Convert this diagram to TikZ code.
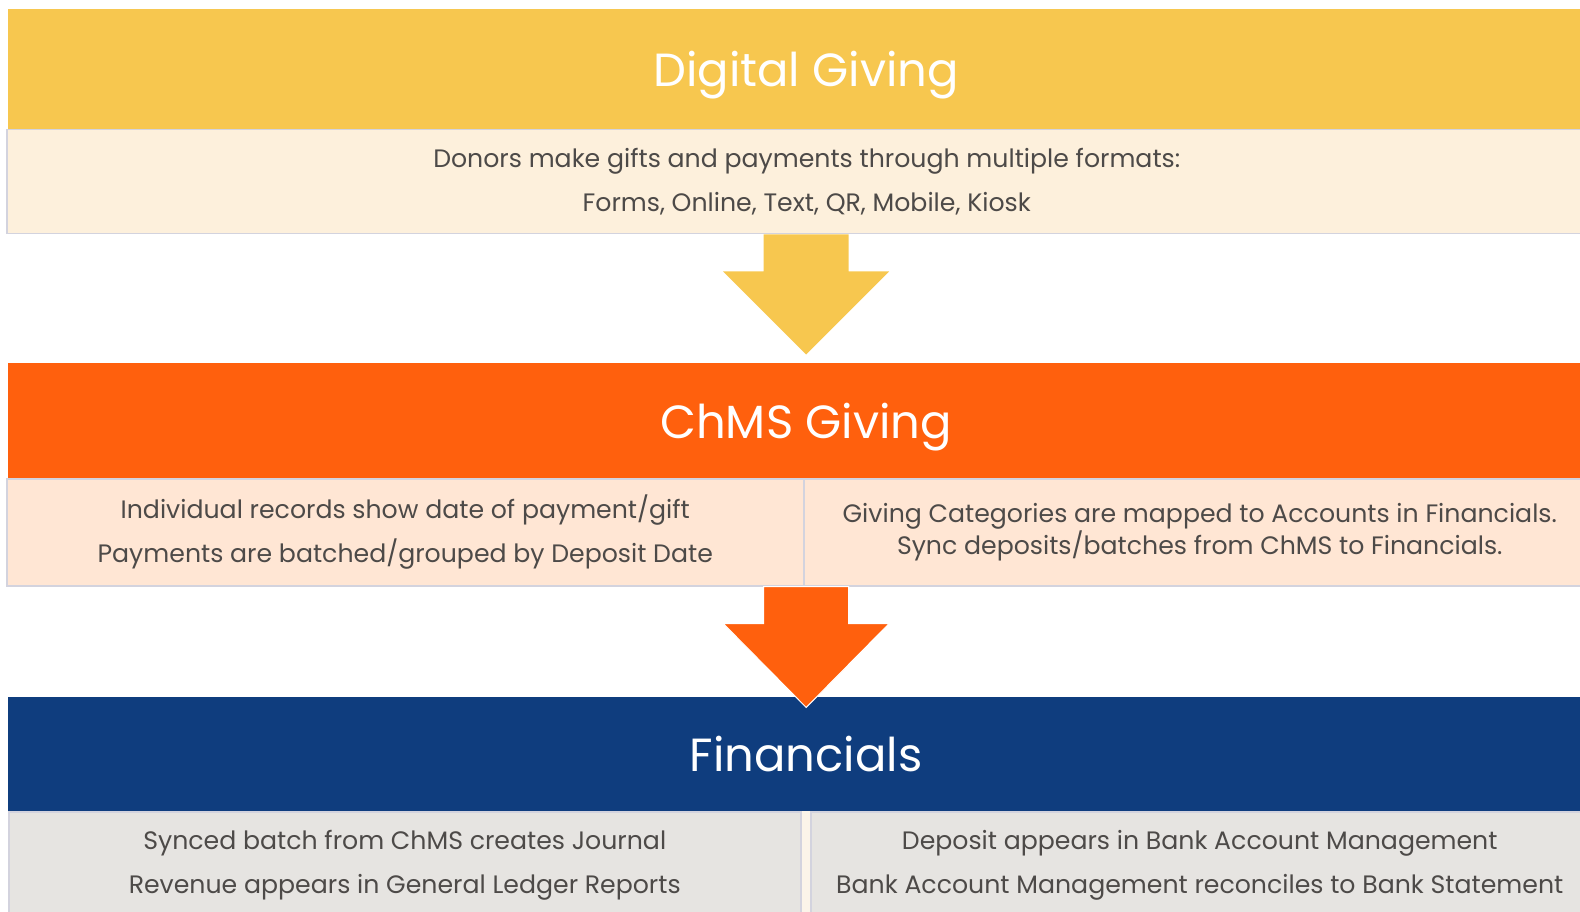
\documentclass[tikz,border=0pt]{standalone}
\usepackage{fontspec}
\setmainfont{Poppins}
\usetikzlibrary{positioning,calc}
\definecolor{givingyellow}{HTML}{F7C74F}
\definecolor{givingcream}{HTML}{FDF0DC}
\definecolor{chmsorange}{HTML}{FF600D}
\definecolor{chmspeach}{HTML}{FFE6D4}
\definecolor{finblue}{HTML}{0F3D7E}
\definecolor{fingray}{HTML}{E6E4E1}
\definecolor{fingap}{HTML}{FBF4E9}
\definecolor{boxline}{HTML}{D3D3DE}
\definecolor{bodytext}{HTML}{4D4A48}
\tikzset{
x=1pt, y=-1pt, % one unit is one pixel of the picture
band/.style={anchor=north west, inner sep=0pt, minimum width=1596pt, minimum height=#1, text depth=0pt, text=white, font=\fontsize{46.5}{52}\selectfont},
infobox/.style={anchor=north west, inner sep=0pt, draw=boxline, line width=1.5pt, align=center, text=bodytext, font=\fontsize{25.2}{44}\selectfont},
blockarrow/.style={draw=white, line width=1pt},
}

\begin{document}
\begin{tikzpicture}
\useasboundingbox (0,0) rectangle (1580,912);
\clip (0,0) rectangle (1580,912);
% Digital Giving
\node[band=120pt, fill=givingyellow] (dgband) at (8,9) {Digital Giving};
\node[infobox, fill=givingcream, minimum width=1600pt, minimum height=104pt] (dginfo) at (6,129)
  {Donors make gifts and payments through multiple formats:\\Forms, Online, Text, QR, Mobile, Kiosk};
% ChMS Giving
\node[band=115pt, fill=chmsorange] (chmsband) at (8,363) {ChMS Giving};
\node[infobox, fill=chmspeach, minimum width=797pt, minimum height=107pt] (chmsleft) at (6,478)
  {Individual records show date of payment/gift\\Payments are batched/grouped by Deposit Date};
\node[infobox, fill=chmspeach, minimum width=792pt, minimum height=107pt, font=\fontsize{25.2}{32}\selectfont] (chmsright) at (803,478)
  {Giving Categories are mapped to Accounts in Financials.\\Sync deposits/batches from ChMS to Financials.};
% Financials
\node[band=114pt, fill=finblue] (finband) at (8,697) {Financials};
\fill[fingap] (800,811) rectangle (810,912);
\node[infobox, fill=fingray, minimum width=792pt, minimum height=107pt] (finleft) at (8,811)
  {Synced batch from ChMS creates Journal\\Revenue appears in General Ledger Reports};
\node[infobox, fill=fingray, minimum width=778pt, minimum height=107pt] (finright) at (810,811)
  {Deposit appears in Bank Account Management\\Bank Account Management reconciles to Bank Statement};
% arrows between the stages
\fill[givingyellow] ($(dginfo.south -| dgband.north)+(-42.5,0)$) -- ++(85,0) -- ++(0,37) -- ++(40.5,0)
  -- ++(-83,83) -- ++(-83,-83) -- ++(40.5,0) -- cycle;
\filldraw[blockarrow, fill=chmsorange] ($(chmsleft.south -| finband.north)+(-42.5,0)$) -- ++(85,0) -- ++(0,37) -- ++(40.5,0)
  -- ++(-83,84) -- ++(-83,-84) -- ++(40.5,0) -- cycle;
\end{tikzpicture}
\end{document}
